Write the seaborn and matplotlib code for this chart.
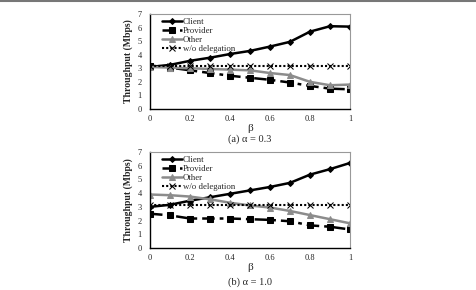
import numpy as np
import pandas as pd
import seaborn as sns
import matplotlib.pyplot as plt

# beta values on the x axis
beta = [0, 0.1, 0.2, 0.3, 0.4, 0.5, 0.6, 0.7, 0.8, 0.9, 1.0]

# (a) alpha = 0.3
client_a = [3.1, 3.25, 3.55, 3.78, 4.05, 4.28, 4.6, 4.95, 5.7, 6.1, 6.07]
provider_a = [3.2, 3.05, 2.85, 2.65, 2.45, 2.3, 2.15, 1.95, 1.7, 1.5, 1.45]
other_a = [3.1, 3.05, 3.0, 2.95, 2.9, 2.85, 2.65, 2.5, 2.0, 1.75, 1.8]
wo_a = [3.15] * 11

# (b) alpha = 1.0
client_b = [3.0, 3.15, 3.45, 3.7, 3.95, 4.2, 4.45, 4.75, 5.35, 5.75, 6.2]
provider_b = [2.5, 2.38, 2.15, 2.15, 2.15, 2.1, 2.05, 1.95, 1.65, 1.55, 1.35]
other_b = [3.9, 3.85, 3.75, 3.55, 3.3, 3.1, 2.95, 2.7, 2.4, 2.1, 1.8]
wo_b = [3.15] * 11

series_names = ['Client', 'Provider', 'Other', 'w/o delegation']
captions = ['(a) α = 0.3', '(b) α = 1.0']

sns.set_theme(style='white')
plt.rcParams['font.family'] = ['Liberation Serif', 'DejaVu Serif']

fig = plt.figure(figsize=(4.77, 2.9), dpi=100)
ax_a = fig.add_axes([150 / 477, 1 - 109 / 290, 200 / 477, 95 / 290])
ax_b = fig.add_axes([150 / 477, 1 - 248 / 290, 200 / 477, 96 / 290])

styles = {
    'Client': dict(color='black', marker='D', markersize=3, lw=1.8, dashes=''),
    'Provider': dict(color='black', marker='s', markersize=5, lw=1.8, dashes=(5, 2, 1.5, 2)),
    'Other': dict(color='#8c8c8c', marker='^', markersize=4, lw=1.8, dashes=''),
    'w/o delegation': dict(color='black', marker='x', markersize=4, lw=1.5, dashes=(1, 1)),
}

data = [(ax_a, [client_a, provider_a, other_a, wo_a]),
        (ax_b, [client_b, provider_b, other_b, wo_b])]

for (ax, vals), cap in zip(data, captions):
    for name, y in zip(series_names, vals):
        st = styles[name]
        sns.lineplot(x=beta, y=y, ax=ax, label=name, color=st['color'],
                     marker=st['marker'], markersize=st['markersize'],
                     markeredgecolor=st['color'], linewidth=st['lw'],
                     dashes=st['dashes'] if st['dashes'] else (None, None))
    ax.set_xlim(0, 1)
    ax.set_ylim(0, 7)
    ax.set_xticks([0, 0.2, 0.4, 0.6, 0.8, 1])
    ax.set_xticklabels(['0', '0.2', '0.4', '0.6', '0.8', '1'])
    ax.set_yticks(range(8))
    ax.tick_params(axis='both', labelsize=6, length=2, width=0.6, pad=4, color='black')
    ax.tick_params(axis='x', direction='in')
    for s in ['left', 'bottom']:
        ax.spines[s].set_color('black')
        ax.spines[s].set_linewidth(1.0)
    for s in ['top', 'right']:
        ax.spines[s].set_color('#999999')
        ax.spines[s].set_linewidth(0.8)
    ax.set_xlabel('β', fontsize=8, labelpad=1)
    ax.set_ylabel('Throughput (Mbps)', fontsize=7, fontweight='bold', labelpad=3)
    ax.legend(loc='upper left', bbox_to_anchor=(0.05, 0.98), frameon=False,
              fontsize=6.3, handlelength=2.3, labelspacing=0.12, handletextpad=0.1,
              borderaxespad=0.1, borderpad=0.1)

fig.text(250 / 477, 1 - 139 / 290, captions[0], ha='center', va='center', fontsize=7.5)
fig.text(250 / 477, 1 - 282 / 290, captions[1], ha='center', va='center', fontsize=7.5)

# thin gray frame line at the top of the figure
fig.add_artist(plt.Line2D([0, 1], [0.997, 0.997], color='#777777', lw=1.5))

fig.savefig('out.png', dpi=100)
